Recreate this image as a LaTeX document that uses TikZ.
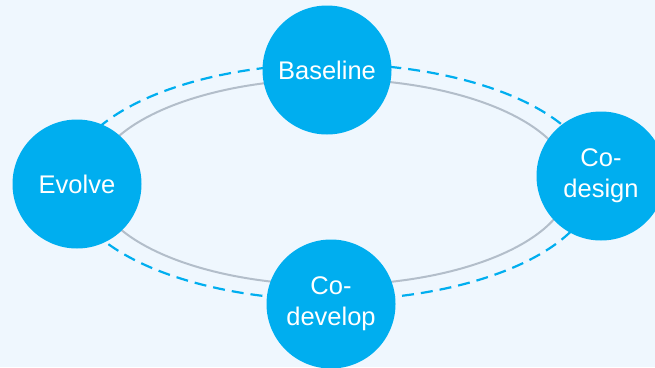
\documentclass[tikz,border=0pt]{standalone}
\usepackage{fontspec}
\setmainfont{Liberation Sans}
\definecolor{bg}{HTML}{EFF7FE}
\definecolor{cblue}{HTML}{00AEEF}
\definecolor{lgray}{HTML}{B3BECA}
\tikzset{
  stage/.style={circle, fill=cblue, minimum size=129pt, inner sep=0pt, text=white, font=\fontsize{25.5}{31}\selectfont, align=center},
  outerring/.style={draw=cblue, line width=2.2pt, dash pattern=on 12pt off 7pt},
  innerring/.style={draw=lgray, line width=2pt}
}
\begin{document}
\begin{tikzpicture}[x=1pt,y=-1pt]
  \fill[bg] (0,0) rectangle (655,367);
  \useasboundingbox (0,0) rectangle (655,367);
  \coordinate (c) at (332,182);
  \draw[outerring] (c) ellipse [x radius=263, y radius=118];
  \draw[innerring] (c) ellipse [x radius=238, y radius=103];
  \begin{scope}
    \clip (0,0) rectangle (655,367);
    \node[stage] (base) at (327,70) {Baseline};
    \node[stage] (evolve) at (77,184) {Evolve};
    \node[stage] (design) at (601,176) {Co-\\design};
    \node[stage] (develop) at (331,304) {Co-\\develop};
  \end{scope}
\end{tikzpicture}
\end{document}
